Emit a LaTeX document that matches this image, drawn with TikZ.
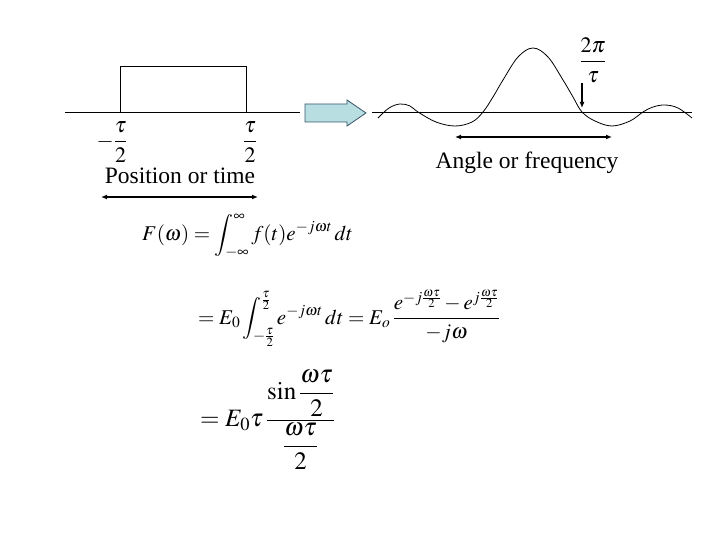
\documentclass[tikz,border=0pt]{standalone}
\usepackage{amsmath,amssymb}
\usepackage{mathptmx}
\usepackage{fontspec}
\setmainfont{Liberation Serif}
\usepackage{tikz}
\usetikzlibrary{arrows.meta, positioning, calc}
\definecolor{arrowfill}{RGB}{184,222,226}
\definecolor{arrowline}{RGB}{55,85,105}
\tikzset{
    axis/.style={line width=0.8pt},
    pulse/.style={line width=0.8pt},
    span/.style={line width=1.6pt,{Latex[length=6pt,width=5pt]}-{Latex[length=6pt,width=5pt]}},
    lbl/.style={inner sep=0pt, font=\fontsize{22}{24}\selectfont},
    caption/.style={inner sep=0pt, font=\fontsize{23.5}{25}\selectfont},
    eqn/.style={inner sep=0pt, anchor=west, font=\fontsize{21}{23}\selectfont},
    blockarrow/.style={draw=arrowline, fill=arrowfill, line width=0.8pt}
}

\begin{document}
\begin{tikzpicture}[x=1pt, y=-1pt, >=stealth]
    \useasboundingbox (0,0) rectangle (720,540);

    % time domain pulse
    \coordinate (tl) at (65,112);
    \coordinate (tr) at (300,112);
    \draw [axis] (tl) -- (tr);
    \draw [pulse] (120,112) -- (120,66) -- (246,66) -- (246,112);
    \node (mhalf) [lbl] at (112,142) {$-\dfrac{\tau}{2}$};
    \node (phalf) [lbl] at (250,142) {$\dfrac{\tau}{2}$};
    \node (postime) [caption] at (180,176) {Position or time};
    \coordinate (ptl) at (101,197);
    \coordinate (ptr) at (258,197);
    \draw [span] (ptl) -- (ptr);

    % transform arrow
    \draw [blockarrow] (305,104) -- (347,104) -- (347,100) -- (366,113)
        -- (347,126) -- (347,122) -- (305,122) -- cycle;

    % frequency domain sinc
    \coordinate (fl) at (372,112);
    \coordinate (fr) at (692,112);
    \draw [axis] (fl) -- (fr);
    \draw [pulse] plot [smooth, tension=0.6] coordinates {
        (378,118) (389,108) (400,104) (410,106) (418,112) (436,122)
        (455,126) (472,122) (483,112) (493,97) (503,80) (518,57)
        (533,48) (548,57) (563,80) (573,97) (582,112) (595,121)
        (612,126) (630,121) (643,112) (653,107) (665,105) (678,108) (692,118)};
    \node (twopi) [lbl] at (593,60) {$\dfrac{2\pi}{\tau}$};
    \coordinate (zt) at (582,83);
    \coordinate (zb) at (582,108);
    \draw [line width=1.4pt, -{Latex[length=6pt,width=5pt]}] (zt) -- (zb);
    \coordinate (afl) at (455,137);
    \coordinate (afr) at (612,137);
    \draw [span] (afl) -- (afr);
    \node (angfreq) [caption] at (527,163) {Angle or frequency};

    % equations
    \node (eqa) [eqn] at (142,236)
        {$F(\omega)=\displaystyle\int_{-\infty}^{\infty} f(t)e^{-j\omega t}\,dt$};
    \node (eqb) [eqn] at (198,318)
        {$=E_0\displaystyle\int_{-\frac{\tau}{2}}^{\frac{\tau}{2}} e^{-j\omega t}\,dt
          = E_o\,\dfrac{e^{-j\frac{\omega\tau}{2}}-e^{j\frac{\omega\tau}{2}}}{-j\omega}$};
    \node (eqc) [eqn, font=\fontsize{25}{27}\selectfont] at (200,420)
        {$=E_0\tau\,\dfrac{\sin\dfrac{\omega\tau}{2}}{\dfrac{\omega\tau}{2}}$};
\end{tikzpicture}
\end{document}
